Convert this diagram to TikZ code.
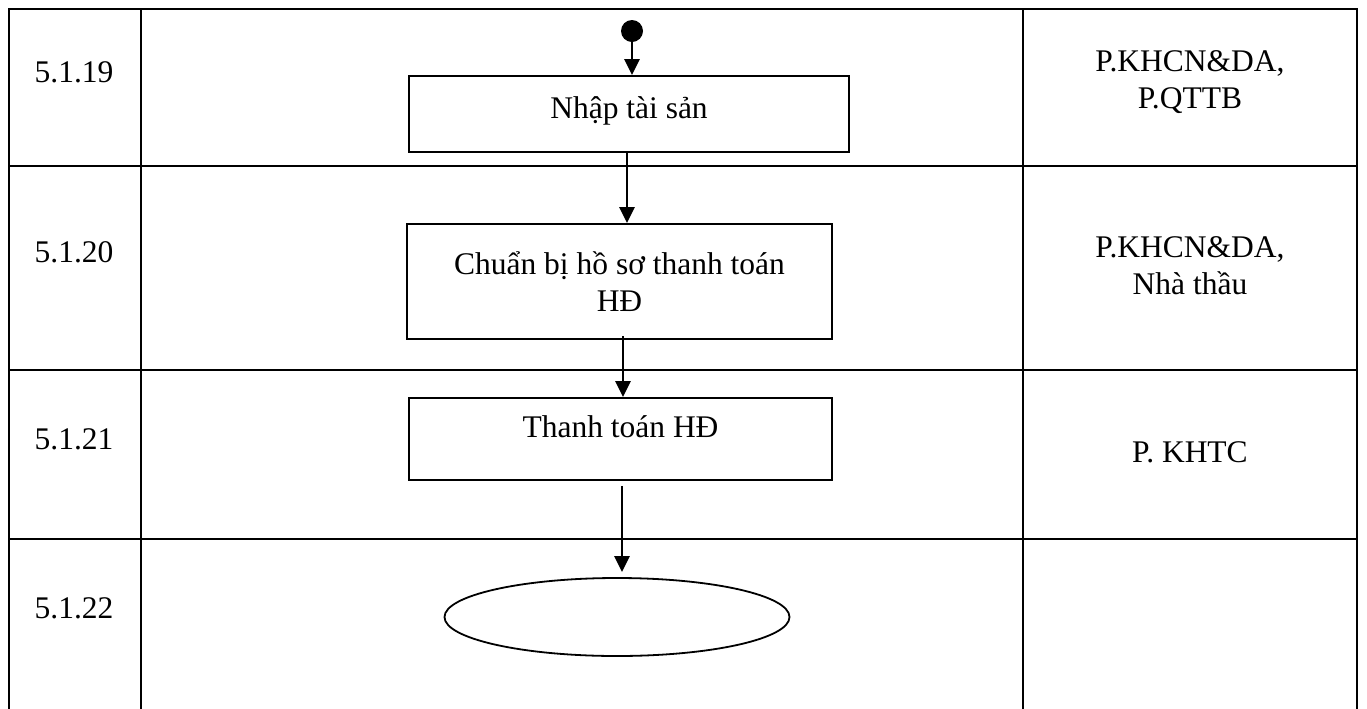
\documentclass[tikz,border=0pt]{standalone}
\usepackage{fontspec}
\setmainfont{Liberation Serif}
\usetikzlibrary{arrows.meta,shapes.geometric}

\tikzset{
    grid/.style={line width=1.1pt,line cap=rect},
    stepbox/.style={draw,line width=0.9pt,inner xsep=0pt,inner ysep=0pt,align=center},
    flow/.style={line width=1.4pt,-{Triangle[width=7.5pt,length=8pt]}},
}

\begin{document}
\begin{tikzpicture}[x=0.5pt,y=-0.5pt,font=\fontsize{15.75}{18.5}\selectfont]
    \useasboundingbox (0,0) rectangle (1367,708);

    % table
    \draw[grid] (9,9) -- (1357,9);
    \draw[grid] (9,166) -- (1357,166);
    \draw[grid] (9,370) -- (1357,370);
    \draw[grid] (9,539) -- (1357,539);
    \draw[grid] (9,9) -- (9,708);
    \draw[grid] (141,9) -- (141,708);
    \draw[grid] (1023,9) -- (1023,708);
    \draw[grid] (1357,9) -- (1357,708);

    % step 5.1.19
    \node[anchor=base] (n19) at (74,82) {5.1.19};
    \node[fill,circle,inner sep=0pt,minimum size=11pt] (start) at (632,31) {};
    \node[stepbox,anchor=base,minimum width=220pt,text height=21pt,text depth=17pt] (nhap) at (629,118) {Nhập tài sản};
    \node[align=center] (u19) at (1190,82) {P.KHCN\&DA,\\P.QTTB};

    % step 5.1.20
    \node[anchor=base] (n20) at (74,262) {5.1.20};
    \node[stepbox,minimum width=212.5pt,minimum height=57.5pt] (chuanbi) at (619.5,281.5) {Chuẩn bị hồ sơ thanh toán\\HĐ};
    \node[align=center] (u20) at (1190,266) {P.KHCN\&DA,\\Nhà thầu};

    % step 5.1.21
    \node[anchor=base] (n21) at (74,449) {5.1.21};
    \node[stepbox,anchor=base,minimum width=211.5pt,text height=19.5pt,text depth=21.5pt] (thanhtoan) at (620.5,437) {Thanh toán HĐ};
    \node[anchor=base] (u21) at (1190,462) {P. KHTC};

    % step 5.1.22
    \node[anchor=base] (n22) at (74,618) {5.1.22};
    \node[draw,ellipse,line width=0.9pt,inner sep=0pt,minimum width=172.5pt,minimum height=39pt] (finish) at (617,617) {};

    % arrows
    \draw[flow] (start.south) -- (start.south |- nhap.north);
    \draw[flow] ([xshift=-1pt]nhap.south) -- ([xshift=-1pt]nhap.south |- chuanbi.north);
    \draw[flow] ([xshift=1.75pt,yshift=2pt]chuanbi.south) -- ([xshift=1.75pt]chuanbi.south |- thanhtoan.north);
    \draw[flow] ([xshift=0.75pt,yshift=-2.5pt]thanhtoan.south) -- ([xshift=0.75pt,yshift=2.5pt]thanhtoan.south |- finish.north);
\end{tikzpicture}
\end{document}
